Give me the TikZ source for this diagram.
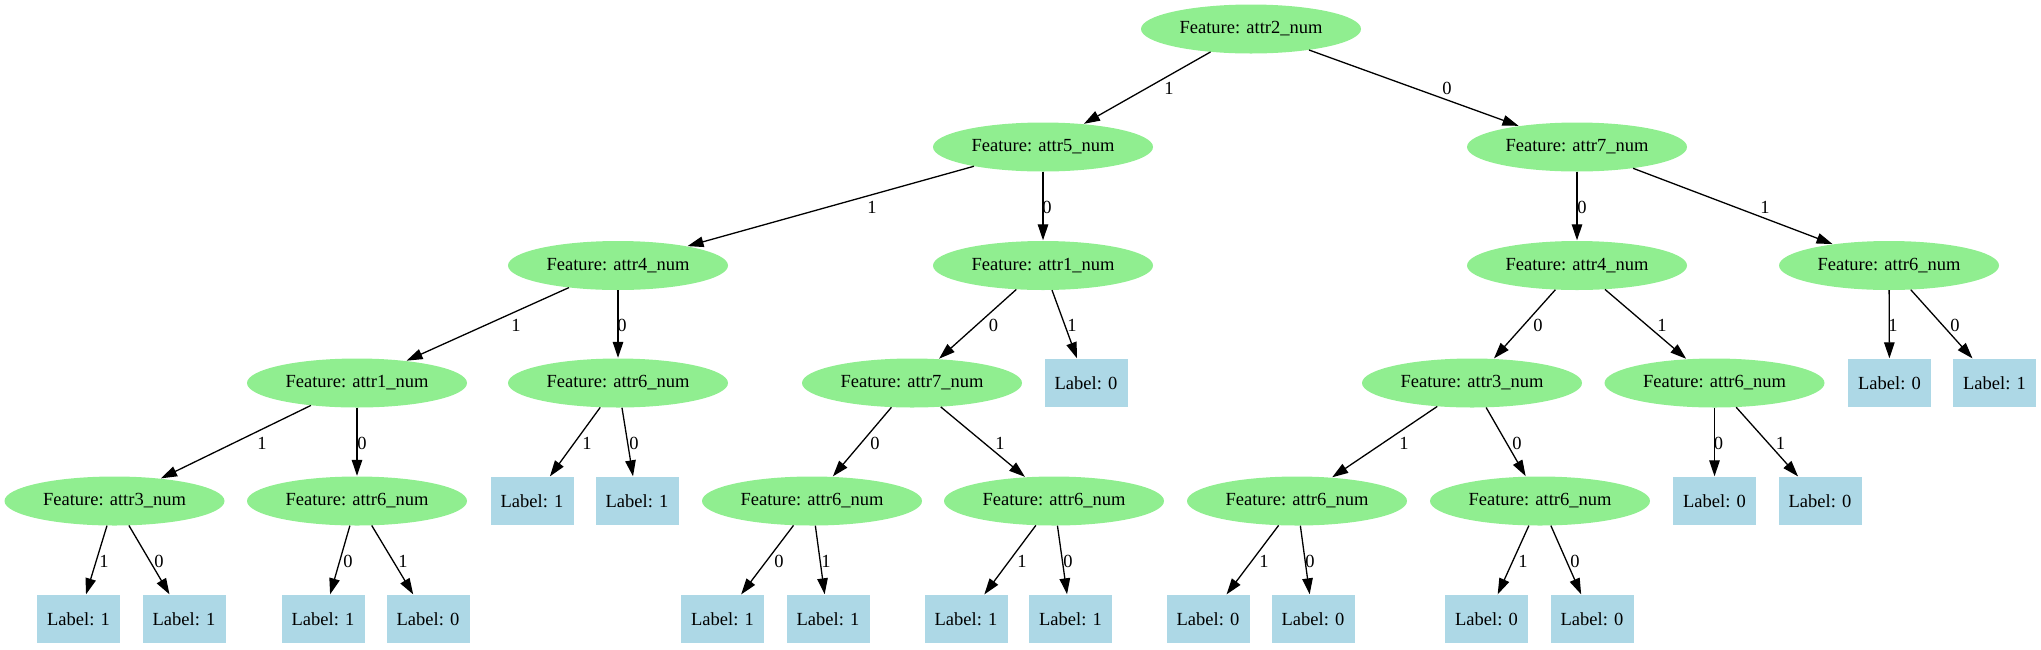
\documentclass[tikz,border=0pt]{standalone}
\usepackage{fontspec}
\setmainfont{Liberation Serif}
\usetikzlibrary{shapes.geometric,arrows.meta}
\definecolor{lgreen}{HTML}{90EE90}
\definecolor{lblue}{HTML}{ADD8E6}
\tikzset{
  feat/.style={ellipse,fill=lgreen,draw=none,minimum width=220pt,minimum height=49pt,inner sep=0pt,font=\fontsize{18.5}{22}\selectfont},
  leaf/.style={rectangle,fill=lblue,draw=none,minimum width=83pt,minimum height=48pt,inner sep=0pt,font=\fontsize{18.5}{22}\selectfont},
  elab/.style={inner sep=0pt,font=\fontsize{18.5}{22}\selectfont},
  edge/.style={line width=1.3pt,-{Triangle[length=16pt,width=10.5pt]},shorten >=0.5pt}
}
\begin{document}
\begin{tikzpicture}[x=1pt,y=-1pt]
\useasboundingbox (0,0) rectangle (2041,649);
% row 0
\node[feat] (n0) at (1251,29) {Feature: attr2\_num};
% row 1
\node[feat] (n1) at (1043,147) {Feature: attr5\_num};
\node[feat] (n2) at (1577,147) {Feature: attr7\_num};
% row 2
\node[feat] (n3) at (618,265.5) {Feature: attr4\_num};
\node[feat] (n4) at (1043,265.5) {Feature: attr1\_num};
\node[feat] (n5) at (1577,265.5) {Feature: attr4\_num};
\node[feat] (n6) at (1889,265.5) {Feature: attr6\_num};
% row 3
\node[feat] (n7) at (357,383) {Feature: attr1\_num};
\node[feat] (n8) at (618,383) {Feature: attr6\_num};
\node[feat] (n9) at (912,383) {Feature: attr7\_num};
\node[leaf] (n10) at (1086,383) {Label: 0};
\node[feat] (n11) at (1472,383) {Feature: attr3\_num};
\node[feat] (n12) at (1714.5,383) {Feature: attr6\_num};
\node[leaf] (n13) at (1889.5,383) {Label: 0};
\node[leaf] (n14) at (1994.5,383) {Label: 1};
% row 4
\node[feat] (n15) at (114.5,501) {Feature: attr3\_num};
\node[feat] (n16) at (357,501) {Feature: attr6\_num};
\node[leaf] (n17) at (532,501) {Label: 1};
\node[leaf] (n18) at (637,501) {Label: 1};
\node[feat] (n19) at (812,501) {Feature: attr6\_num};
\node[feat] (n20) at (1054,501) {Feature: attr6\_num};
\node[feat] (n21) at (1297,501) {Feature: attr6\_num};
\node[feat] (n22) at (1540,501) {Feature: attr6\_num};
\node[leaf] (n23) at (1714.5,501) {Label: 0};
\node[leaf] (n24) at (1820,501) {Label: 0};
% row 5
\node[leaf] (m1) at (78.5,619) {Label: 1};
\node[leaf] (m2) at (184,619) {Label: 1};
\node[leaf] (m3) at (323,619) {Label: 1};
\node[leaf] (m4) at (428,619) {Label: 0};
\node[leaf] (m5) at (722.5,619) {Label: 1};
\node[leaf] (m6) at (828,619) {Label: 1};
\node[leaf] (m7) at (966,619) {Label: 1};
\node[leaf] (m8) at (1070.5,619) {Label: 1};
\node[leaf] (m9) at (1208,619) {Label: 0};
\node[leaf] (m10) at (1313,619) {Label: 0};
\node[leaf] (m11) at (1486.5,619) {Label: 0};
\node[leaf] (m12) at (1592,619) {Label: 0};
% edges
\draw[edge] (n0) -- (n1);  \node[elab] (l1) at (1169,88) {1};
\draw[edge] (n0) -- (n2);  \node[elab] (l2) at (1447,88) {0};
\draw[edge] (n1) -- (n3);  \node[elab] (l3) at (872,207) {1};
\draw[edge] (n1) -- (n4);  \node[elab] (l4) at (1047,207) {0};
\draw[edge] (n2) -- (n5);  \node[elab] (l5) at (1582,207) {0};
\draw[edge] (n2) -- (n6);  \node[elab] (l6) at (1765,207) {1};
\draw[edge] (n3) -- (n7);  \node[elab] (l7) at (516,325) {1};
\draw[edge] (n3) -- (n8);  \node[elab] (l8) at (622,325) {0};
\draw[edge] (n4) -- (n9);  \node[elab] (l9) at (993.5,325) {0};
\draw[edge] (n4) -- (n10); \node[elab] (l10) at (1072,325) {1};
\draw[edge] (n5) -- (n11); \node[elab] (l11) at (1538,325) {0};
\draw[edge] (n5) -- (n12); \node[elab] (l12) at (1662,325) {1};
\draw[edge] (n6) -- (n13); \node[elab] (l13) at (1893,325) {1};
\draw[edge] (n6) -- (n14); \node[elab] (l14) at (1955,325) {0};
\draw[edge] (n7) -- (n15); \node[elab] (l15) at (262,443) {1};
\draw[edge] (n7) -- (n16); \node[elab] (l16) at (362,443) {0};
\draw[edge] (n8) -- (n17); \node[elab] (l17) at (587,443) {1};
\draw[edge] (n8) -- (n18); \node[elab] (l18) at (634,443) {0};
\draw[edge] (n9) -- (n19); \node[elab] (l19) at (875,443) {0};
\draw[edge] (n9) -- (n20); \node[elab] (l20) at (1000,443) {1};
\draw[edge] (n11) -- (n21); \node[elab] (l21) at (1404,443) {1};
\draw[edge] (n11) -- (n22); \node[elab] (l22) at (1517,443) {0};
\draw[edge] (n12) -- (n23); \node[elab] (l23) at (1718.5,443) {0};
\draw[edge] (n12) -- (n24); \node[elab] (l24) at (1780.5,443) {1};
\draw[edge] (n15) -- (m1); \node[elab] (l25) at (104,561) {1};
\draw[edge] (n15) -- (m2); \node[elab] (l26) at (159,561) {0};
\draw[edge] (n16) -- (m3); \node[elab] (l27) at (348,561) {0};
\draw[edge] (n16) -- (m4); \node[elab] (l28) at (403,561) {1};
\draw[edge] (n19) -- (m5); \node[elab] (l29) at (779,561) {0};
\draw[edge] (n19) -- (m6); \node[elab] (l30) at (826,561) {1};
\draw[edge] (n20) -- (m7); \node[elab] (l31) at (1022,561) {1};
\draw[edge] (n20) -- (m8); \node[elab] (l32) at (1068,561) {0};
\draw[edge] (n21) -- (m9); \node[elab] (l33) at (1264,561) {1};
\draw[edge] (n21) -- (m10); \node[elab] (l34) at (1310,561) {0};
\draw[edge] (n22) -- (m11); \node[elab] (l35) at (1523,561) {1};
\draw[edge] (n22) -- (m12); \node[elab] (l36) at (1575,561) {0};
\end{tikzpicture}
\end{document}
